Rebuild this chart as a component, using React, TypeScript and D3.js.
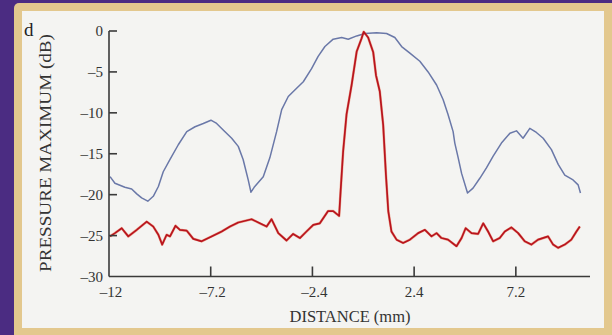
import React from 'react';
import * as d3 from 'd3';

// blue trace (wide beam)
const blueDistance = [
  -11.95, -11.72, -11.25, -10.93, -10.69, -10.46, -10.17, -9.91, -9.67, -9.44, -9.12, -8.73,
  -8.33, -7.94, -7.55, -7.19, -6.92, -6.61, -6.21, -5.9, -5.67, -5.43, -5.3, -5.15, -4.72,
  -4.41, -4.09, -3.85, -3.54, -3.23, -2.83, -2.44, -2.13, -1.81, -1.42, -1.02, -0.71, -0.31,
  0.08, 0.63, 1.1, 1.49, 1.81, 2.2, 2.67, 3.06, 3.46, 3.77, 4.0, 4.24, 4.32, 4.48, 4.64, 4.92,
  5.18, 5.5, 5.82, 6.13, 6.52, 6.92, 7.23, 7.54, 7.86, 8.17, 8.49, 8.88, 9.2, 9.51, 9.9, 10.14,
  10.25,
];
const bluePressure = [
  -17.8, -18.6, -19.1, -19.3, -19.9, -20.4, -20.8, -20.2, -19.0, -17.2, -15.7, -13.9,
  -12.3, -11.7, -11.3, -10.9, -11.3, -12.1, -13.1, -14.1, -15.7, -18.2, -19.7, -19.1, -17.8,
  -15.5, -12.3, -9.6, -8.0, -7.2, -6.2, -4.6, -3.1, -1.9, -1.0, -0.8, -1.0, -0.6,
  -0.3, -0.2, -0.3, -0.8, -1.9, -2.7, -3.7, -5.0, -6.6, -8.4, -10.2, -12.3, -13.7, -15.5, -17.4, -19.8,
  -19.2, -18.0, -16.7, -15.3, -13.7, -12.5, -12.2, -13.1, -11.9, -12.4, -13.1, -14.5, -16.3, -17.6, -18.2, -18.8,
  -19.8,
];

// red trace (narrow focus)
const redDistance = [
  -11.95, -11.72, -11.4, -11.09, -10.69, -10.22, -9.91, -9.67, -9.49, -9.28, -9.12, -8.86,
  -8.65, -8.33, -8.02, -7.63, -7.16, -6.68, -6.29, -5.9, -5.27, -4.88, -4.56, -4.33, -4.01,
  -3.62, -3.31, -2.99, -2.68, -2.36, -2.05, -1.66, -1.42, -1.14, -1.07, -0.95, -0.79, -0.55,
  -0.31, -0.08, 0.02, 0.23, 0.47, 0.6, 0.78, 0.94, 1.07, 1.18, 1.33, 1.57, 1.88, 2.2, 2.59,
  2.91, 3.22, 3.46, 3.69, 4.0, 4.4, 4.64, 4.83, 5.11, 5.42, 5.66, 5.89, 6.13, 6.44, 6.68, 6.99,
  7.31, 7.62, 7.93, 8.25, 8.72, 8.96, 9.2, 9.51, 9.82, 10.06, 10.22,
];
const redPressure = [
  -25.1, -24.7, -24.1, -25.1, -24.3, -23.3, -23.9, -24.9, -26.1, -24.9, -25.1, -23.8,
  -24.3, -24.4, -25.4, -25.7, -25.1, -24.5, -23.9, -23.4, -23.0, -23.5, -23.9, -23.0, -24.7,
  -25.6, -24.8, -25.3, -24.5, -23.7, -23.5, -22.0, -22.0, -22.6, -19.6, -14.7, -10.2, -6.6,
  -2.5, -0.9, -0.1, -0.8, -2.6, -5.4, -7.4, -11.5, -17.6, -22.0, -24.5, -25.5, -25.9, -25.5, -24.7,
  -24.3, -25.1, -24.7, -25.3, -25.5, -26.3, -25.3, -24.1, -24.7, -24.8, -23.5, -24.5, -25.7, -25.3, -24.5, -24.0,
  -24.7, -25.7, -26.1, -25.5, -25.1, -26.1, -26.5, -26.1, -25.5, -24.5, -23.9,
];

const xTicks = [-12, -7.2, -2.4, 2.4, 7.2];
const yTicks = [0, -5, -10, -15, -20, -25, -30];

const W = 612;
const H = 335;
const FONT = '"Liberation Serif", "DejaVu Serif", serif';

export default function App() {
  const x = d3.scaleLinear().domain([-12, 10.7]).range([109, 590]);
  const y = d3.scaleLinear().domain([-30, 0]).range([276.5, 31]);

  const line = d3
    .line<[number, number]>()
    .x((d) => x(d[0]))
    .y((d) => y(d[1]));

  const blue = blueDistance.map((d, i) => [d, bluePressure[i]] as [number, number]);
  const red = redDistance.map((d, i) => [d, redPressure[i]] as [number, number]);

  const fmt = (v: number) => (v < 0 ? '\u2013' + String(-v) : String(v));
  const axisColor = '#3a3a3a';

  return (
    <svg
      width={W}
      height={H}
      style={{ position: 'fixed', left: 0, top: 0, display: 'block' }}
      fontFamily={FONT}
    >
      {/* frame */}
      <rect x={0} y={0} width={W} height={H} fill="#4b2c82" />
      <rect x={14} y={3} width={W} height={H + 10} rx={5} fill="#e3c88e" />
      <rect x={22} y={11} width={582} height={317} fill="#f4f4f2" />

      <text x={24} y={36} fontSize={19} fill="#222">d</text>

      {/* traces */}
      <path d={line(blue) ?? ''} fill="none" stroke="#6a78a8" strokeWidth={1.5} strokeLinejoin="round" />
      <path d={line(red) ?? ''} fill="none" stroke="#e8603a" strokeWidth={2.6} strokeLinejoin="round" opacity={0.5} />
      <path d={line(red) ?? ''} fill="none" stroke="#b8141e" strokeWidth={1.7} strokeLinejoin="round" />

      {/* y axis */}
      <line x1={x(-12)} x2={x(-12)} y1={y(0)} y2={y(-30)} stroke={axisColor} strokeWidth={1.6} />
      {yTicks.map((t) => (
        <g key={'y' + t}>
          {t !== -30 && (
            <line x1={x(-12)} x2={x(-12) + 8} y1={y(t)} y2={y(t)} stroke={axisColor} strokeWidth={1.6} />
          )}
          <text x={103} y={y(t)} dy="0.35em" textAnchor="end" fontSize={15} fill="#333">
            {fmt(t)}
          </text>
        </g>
      ))}

      {/* x axis */}
      <line x1={x(-12)} x2={590} y1={y(-30)} y2={y(-30)} stroke={axisColor} strokeWidth={1.6} />
      {xTicks.map((t) => (
        <g key={'x' + t}>
          {t !== -12 && (
            <line x1={x(t)} x2={x(t)} y1={y(-30)} y2={y(-30) - 10} stroke={axisColor} strokeWidth={1.6} />
          )}
          <text x={x(t) + (t < 0 ? 2 : 0)} y={297} textAnchor="middle" fontSize={15} fill="#333">
            {fmt(t)}
          </text>
        </g>
      ))}

      <text x={350} y={322} textAnchor="middle" fontSize={16.5} fill="#333">
        DISTANCE (mm)
      </text>
      <text
        transform="translate(51,153) rotate(-90)"
        textAnchor="middle"
        fontSize={16.5}
        fill="#333"
        textLength={238}
        lengthAdjust="spacingAndGlyphs"
      >
        PRESSURE MAXIMUM (dB)
      </text>
    </svg>
  );
}
